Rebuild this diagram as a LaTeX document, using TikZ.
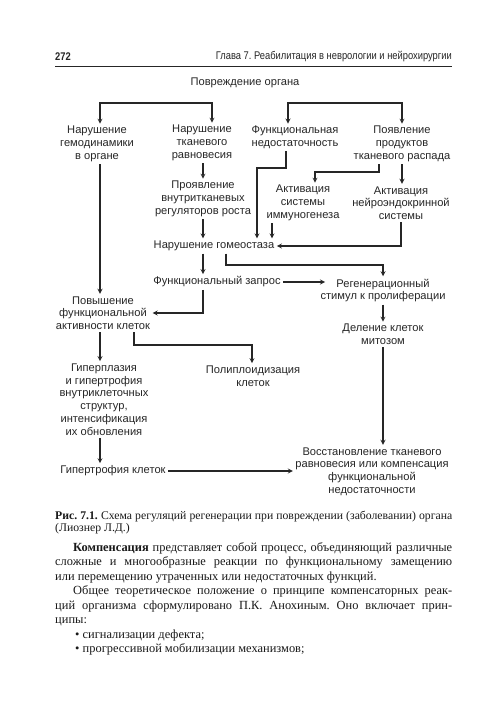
\documentclass[tikz,border=0pt]{standalone}
\usepackage{fontspec}
\setmainfont{Liberation Serif}
\setsansfont{Liberation Sans}
\newfontfamily\headfont[FakeStretch=0.84]{Liberation Sans}
\usepackage{tikz}
\usetikzlibrary{arrows}
\setlength{\parindent}{0pt}
\setlength{\parskip}{0pt}
\frenchspacing

\tikzset{
  blok/.style={font=\sffamily\fontsize{9.5}{10.9}\selectfont, align=center, inner sep=2pt, text=black!85},
  strelka/.style={->, >=stealth, line width=0.9pt, draw=black!85}
}

\begin{document}
\begin{tikzpicture}[x=0.03cm,y=-0.03cm]
\useasboundingbox (0,0) rectangle (500,711);
\fill[white] (0,0) rectangle (500,711);
% header
\node[anchor=west, inner sep=0, text=black!85, font=\headfont\bfseries\fontsize{9.5}{11}\selectfont] (pg) at (55,57) {272};
\node[anchor=east, inner sep=0, text=black!85, font=\headfont\fontsize{9.5}{11}\selectfont] (ch) at (452,57) {Глава 7. Реабилитация в неврологии и нейрохирургии};
\draw[line width=0.8pt, black!85] (55,66) -- (452,66);

% diagram
\node[blok] (dmg) at (245,83) {Повреждение органа};
\node[blok] (hemo) at (97,144) {Нарушение\\гемодинамики\\в органе};
\node[blok] (tis) at (202,143) {Нарушение\\тканевого\\равновесия};
\node[blok] (fn) at (295,137.5) {Функциональная\\недостаточность};
\node[blok] (prod) at (402,144) {Появление\\продуктов\\тканевого распада};
\node[blok] (grow) at (203,199) {Проявление\\внутритканевых\\регуляторов роста};
\node[blok] (imm) at (303,203) {Активация\\системы\\иммуногенеза};
\node[blok] (neuro) at (401,203) {Активация\\нейроэндокринной\\системы};
\node[blok] (homeo) at (214,246) {Нарушение гомеостаза};
\node[blok] (req) at (217,282) {Функциональный запрос};
\node[blok] (regen) at (383,290.5) {Регенерационный\\стимул к пролиферации};
\node[blok] (act) at (103,313) {Повышение\\функциональной\\активности клеток};
\node[blok] (div) at (383,334.5) {Деление клеток\\митозом};
\node[blok] (hyper) at (104,399.5) {Гиперплазия\\и гипертрофия\\внутриклеточных\\структур,\\интенсификация\\их обновления};
\node[blok] (poly) at (253,376) {Полиплоидизация\\клеток};
\node[blok] (hypt) at (113,471) {Гипертрофия клеток};
\node[blok] (rest) at (372,471.5) {Восстановление тканевого\\равновесия или компенсация\\функциональной\\недостаточности};

\coordinate (b1) at (100,103);
\coordinate (b2) at (212,103);
\coordinate (b3) at (288,103);
\coordinate (b4) at (402,103);
\coordinate (L) at (100,0);
\coordinate (mid) at (203,0);
\coordinate (f1) at (286,168);
\coordinate (f2) at (257,168);
\coordinate (p1) at (379,172);
\coordinate (p2) at (315,172);
\coordinate (i1) at (272,0);
\coordinate (h2) at (226,265);
\coordinate (h3) at (383,265);
\coordinate (rin) at (325,282);
\coordinate (q1) at (203,313);
\coordinate (a1) at (134,345);
\coordinate (a2) at (252,345);

\draw[strelka,<->] (b1 |- hemo.north) -- (b1) -- (b2) -- (b2 |- tis.north);
\draw[strelka,<->] (b3 |- fn.north) -- (b3) -- (b4) -- (b4 |- prod.north);
\draw[strelka] (mid |- tis.south) -- (mid |- grow.north);
\draw[strelka] (mid |- grow.south) -- (mid |- homeo.north);
\draw[strelka] (f1 |- fn.south) -- (f1) -- (f2) -- (f2 |- homeo.north);
\draw[strelka] (p1 |- prod.south) -- (p1) -- (p2) -- (p2 |- imm.north);
\draw[strelka] (prod.south) -- (prod.south |- neuro.north);
\draw[strelka] (i1 |- imm.south) -- (i1 |- homeo.north);
\draw[strelka] (neuro.south) |- (homeo.east);
\draw[strelka] (mid |- homeo.south) -- (mid |- req.north);
\draw[strelka] (h2 |- homeo.south) -- (h2) -- (h3) -- (h3 |- regen.north);
\draw[strelka] (req.east) -- (rin);
\draw[strelka] (q1 |- req.south) -- (q1) -- (act.east);
\draw[strelka] (L |- hemo.south) -- (L |- act.north);
\draw[strelka] (L |- act.south) -- (L |- hyper.north);
\draw[strelka] (L |- hyper.south) -- (L |- hypt.north);
\draw[strelka] (a1 |- act.south) -- (a1) -- (a2) -- (a2 |- poly.north);
\draw[strelka] (regen.south) -- (div.north);
\draw[strelka] (div.south) -- (div.south |- rest.north);
\draw[strelka] (hypt.east) -- (hypt.east -| rest.west);

% caption and text
\node[anchor=north west, inner sep=0, text width=11.91cm, align=justify, text=black!90, font=\fontsize{10}{10.4}\selectfont] (cap) at (55,511) {\textbf{Рис. 7.1.} Схема регуляций регенерации при повреждении (заболевании) органа\linebreak (Лиознер Л.Д.)};
\node[anchor=north west, inner sep=0, text width=11.91cm, align=justify, text=black!90, font=\fontsize{10.6}{12.4}\selectfont] (txt) at (55,542) {\hspace*{0.54cm}\textbf{Компенсация} представляет собой процесс, объединяющий различные\linebreak сложные и многообразные реакции по функциональному замещению\linebreak или перемещению утраченных или недостаточных функций.\par
\hspace*{0.54cm}Общее теоретическое положение о принципе компенсаторных реак-\linebreak ций организма сформулировано П.К. Анохиным. Оно включает прин-\linebreak ципы:\par
\hspace*{0.6cm}• сигнализации дефекта;\par
\hspace*{0.6cm}• прогрессивной мобилизации механизмов;};
\end{tikzpicture}
\end{document}
